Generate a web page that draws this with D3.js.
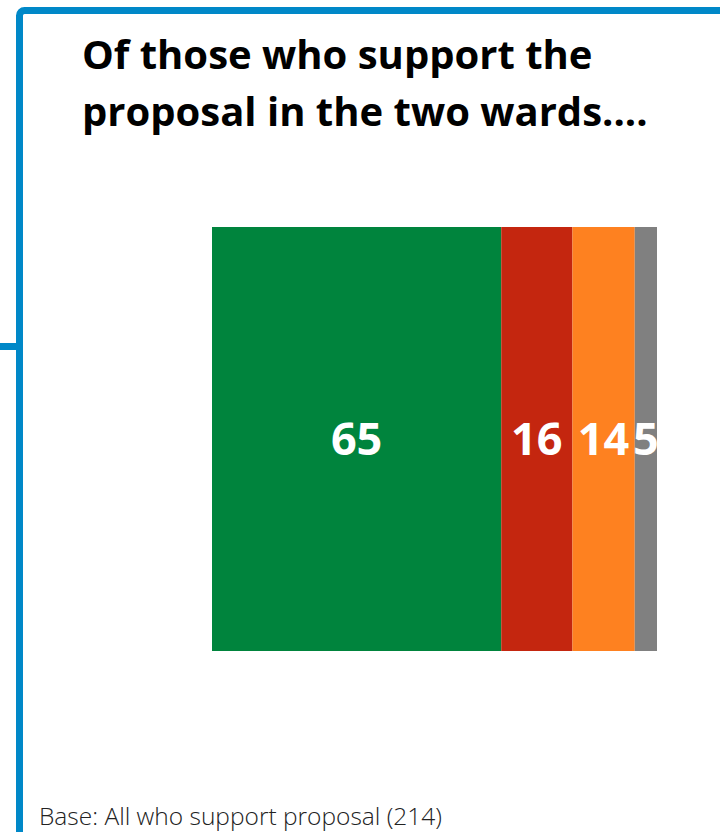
<!DOCTYPE html>
<html>
<head>
<meta charset="utf-8">
<script src="https://cdn.jsdelivr.net/npm/d3@7"></script>
<style>
  html, body { margin: 0; padding: 0; background: #fff; }
  svg { display: block; }
</style>
</head>
<body>
<svg id="chart" width="720" height="832"></svg>
<script>
// Share of supporters by response (percent), one stacked bar
const categories = ["A", "B", "C", "D"];
const values = [65, 16, 14, 5];
const colors = ["#00843d", "#c4260f", "#fe8120", "#808080"];
const titleLines = ["Of those who support the", "proposal in the two wards...."];
const baseNote = "Base: All who support proposal (214)";

const svg = d3.select("#chart");
const frameBlue = "#0088c8";

// slide frame
svg.append("rect")
  .attr("x", 19.5).attr("y", 10.5)
  .attr("width", 760).attr("height", 900)
  .attr("rx", 5)
  .attr("fill", "none")
  .attr("stroke", frameBlue)
  .attr("stroke-width", 7);
svg.append("rect")
  .attr("x", 0).attr("y", 343)
  .attr("width", 17).attr("height", 7)
  .attr("fill", frameBlue);

// title
const title = svg.append("text")
  .attr("x", 82)
  .attr("font-family", "'Open Sans', 'Noto Sans', sans-serif")
  .attr("font-weight", 700)
  .attr("font-size", 40)
  .attr("fill", "#000");
title.selectAll("tspan")
  .data(titleLines)
  .join("tspan")
  .attr("x", 82)
  .attr("y", (d, i) => 69 + i * 57)
  .text(d => d);

// stacked bar
const x = d3.scaleLinear().domain([0, d3.sum(values)]).range([212, 657]);
const y = d3.scaleBand().domain(["all"]).range([227, 651]).padding(0);

const stacked = [];
let acc = 0;
values.forEach((v, i) => {
  stacked.push({ cat: categories[i], v, x0: acc, x1: acc + v, color: colors[i] });
  acc += v;
});

const g = svg.append("g");
g.selectAll("rect")
  .data(stacked)
  .join("rect")
  .attr("x", d => x(d.x0))
  .attr("y", y("all"))
  .attr("width", d => x(d.x1) - x(d.x0))
  .attr("height", y.bandwidth())
  .attr("fill", d => d.color);

g.selectAll("text")
  .data(stacked)
  .join("text")
  .attr("x", d => (x(d.x0) + x(d.x1)) / 2)
  .attr("y", y("all") + y.bandwidth() / 2)
  .attr("dy", "0.36em")
  .attr("text-anchor", "middle")
  .attr("font-family", "'Open Sans', 'Noto Sans', sans-serif")
  .attr("font-weight", 700)
  .attr("font-size", 45)
  .attr("fill", "#fff")
  .text(d => d.v);

// base note
svg.append("text")
  .attr("x", 39)
  .attr("y", 825)
  .attr("font-family", "'Open Sans', 'Noto Sans', sans-serif")
  .attr("font-weight", 300)
  .attr("font-size", 24.5)
  .attr("fill", "#222")
  .text(baseNote);
</script>
</body>
</html>
